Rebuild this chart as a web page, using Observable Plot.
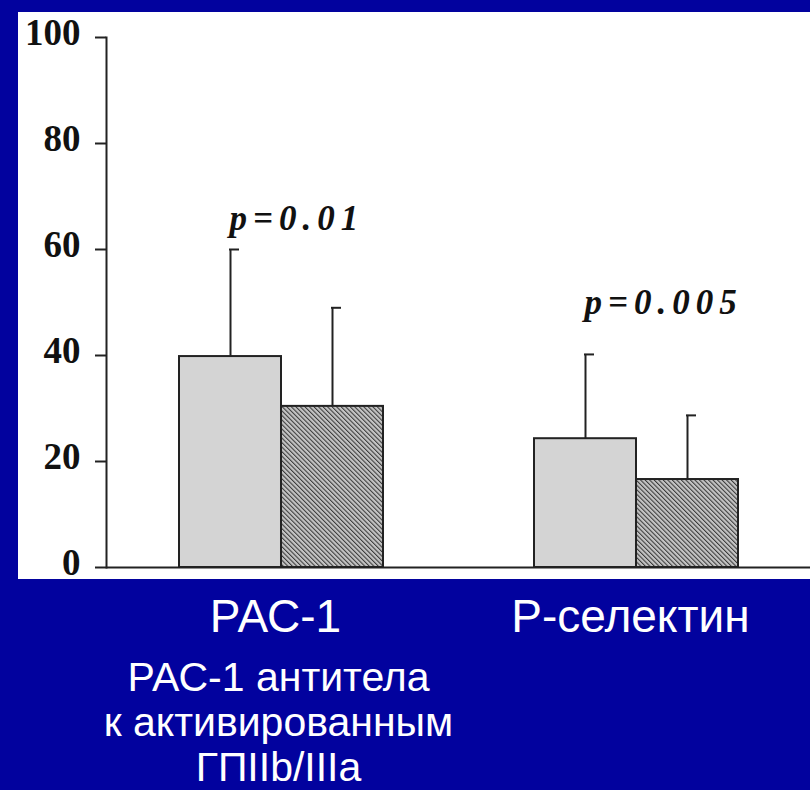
<!DOCTYPE html>
<html>
<head>
<meta charset="utf-8">
<script src="https://cdn.jsdelivr.net/npm/d3@7"></script>
<script src="https://cdn.jsdelivr.net/npm/@observablehq/plot@0.6"></script>
<style>
  html, body { margin: 0; padding: 0; background: #02029e; width: 810px; height: 790px; overflow: hidden; }
  #panel { position: absolute; left: 18px; top: 12px; width: 792px; height: 567px; background: #fff; }
  #chart { position: absolute; left: 18px; top: 12px; }
  g[font-style="italic"] text { letter-spacing: 6px; }
</style>
</head>
<body>
<svg width="0" height="0" style="position:absolute">
  <defs>
    <pattern id="hatch" patternUnits="userSpaceOnUse" width="3.2" height="3.2" patternTransform="rotate(-45)">
      <rect width="3.2" height="3.2" fill="#c4c4c4"/>
      <line x1="0" y1="0" x2="0" y2="3.2" stroke="#3a3a3a" stroke-width="2.1"/>
    </pattern>
  </defs>
</svg>
<div id="panel"></div>
<div id="chart"></div>
<script>
// Marker groups on the x axis
const groups = ["РАС-1", "Р-селектин"];
// First (light) bar of each group: mean and SD
const baselineMean = [39.8, 24.3];
const baselineSd = [20.2, 15.9];
// Second (hatched) bar of each group: mean and SD
const treatedMean = [30.4, 16.6];
const treatedSd = [18.6, 12.1];
// Significance labels and the height they sit at
const pLabels = ["p=0.01", "p=0.005"];
const pLabelY = [63.6, 47.9];
const yTicks = [0, 20, 40, 60, 80, 100];
const note = "РАС-1 антитела\nк активированным\nГПIIb/IIIa";

const W = 792, H = 778;
const mLeft = 88, mRight = 0, mTop = 25, mBottom = 223;
const padInner = 0.4254, padOuter = 0.2042;

// Band width of a group, used to split it into two side-by-side bars
const bw = d3.scaleBand().domain(groups).range([mLeft, W - mRight])
  .paddingInner(padInner).paddingOuter(padOuter).bandwidth();
const half = bw / 2, quarter = bw / 4;

const first = groups.map((g, i) => ({group: g, mean: baselineMean[i], sd: baselineSd[i]}));
const second = groups.map((g, i) => ({group: g, mean: treatedMean[i], sd: treatedSd[i]}));
const pRows = groups.map((g, i) => ({group: g, label: pLabels[i], y: pLabelY[i]}));

const ink = "#222";
const upper = d => d.mean + d.sd;

const chart = Plot.plot({
  width: W,
  height: H,
  marginLeft: mLeft,
  marginRight: mRight,
  marginTop: mTop,
  marginBottom: mBottom,
  style: {background: "transparent", overflow: "visible"},
  x: {type: "band", domain: groups, paddingInner: padInner, paddingOuter: padOuter, label: null},
  y: {domain: [0, 100], label: null},
  marks: [
    Plot.barY(first, {x: "group", y: "mean", insetRight: half, fill: "#d4d4d4", stroke: ink, strokeWidth: 2}),
    Plot.barY(second, {x: "group", y: "mean", insetLeft: half, fill: "url(#hatch)", stroke: ink, strokeWidth: 2}),
    Plot.ruleX(first, {x: "group", y1: "mean", y2: upper, dx: -quarter, stroke: ink, strokeWidth: 2}),
    Plot.ruleX(second, {x: "group", y1: "mean", y2: upper, dx: quarter, stroke: ink, strokeWidth: 2}),
    Plot.tickY(first, {x: "group", y: upper, insetLeft: quarter - 1, insetRight: bw - quarter - 9, stroke: ink, strokeWidth: 2}),
    Plot.tickY(second, {x: "group", y: upper, insetLeft: 3 * quarter - 1, insetRight: quarter - 9, stroke: ink, strokeWidth: 2}),
    Plot.ruleY([0], {stroke: ink, strokeWidth: 2}),
    Plot.frame({anchor: "left", stroke: ink, strokeWidth: 2}),
    Plot.axisY(yTicks, {tickSize: 11, tickFormat: () => "", stroke: ink, strokeWidth: 2}),
    Plot.axisY(yTicks, {tickSize: 0, tickPadding: 26, dy: -4, fontSize: 37, fontFamily: "Liberation Serif", fontWeight: "bold", fill: "#111"}),
    Plot.axisX({tickSize: 0, tickPadding: 32, dx: -6, fontSize: 46, fontFamily: "Liberation Sans", fill: "#fff"}),
    Plot.text([note], {x: () => groups[0], text: d => d, frameAnchor: "bottom", lineAnchor: "top", dx: -3, dy: 91, lineHeight: 1.1, fontSize: 41, fontFamily: "Liberation Sans", fill: "#fff"}),
    Plot.text(pRows, {x: "group", y: "y", text: "label", textAnchor: "start", lineAnchor: "bottom", dx: -quarter - 1, fontSize: 35, fontFamily: "Liberation Serif", fontWeight: "bold", fontStyle: "italic", fill: "#111"})
  ]
});
document.getElementById("chart").appendChild(chart);
</script>
</body>
</html>
